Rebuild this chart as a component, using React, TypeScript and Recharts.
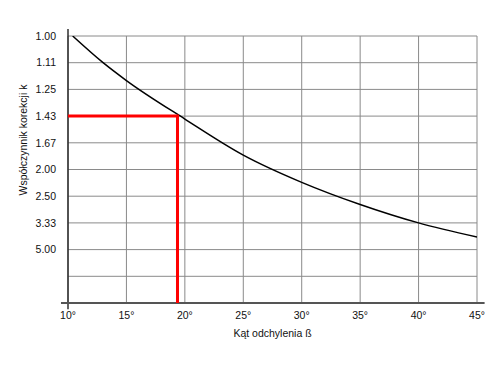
import React from 'react';
import { LineChart, Line, XAxis, YAxis, CartesianGrid, ReferenceLine, Label } from 'recharts';

// Angle of deviation (degrees) and the inverse correction factor 1/k
const angles = [10.4, 13, 15, 20, 25, 30, 35, 40, 45];
const invK = [1.0, 0.9, 0.833, 0.689, 0.554, 0.452, 0.369, 0.3, 0.247];

// Example reading (red guide line): k = 1.43 -> beta ≈ 19.4°
const markerAngle = [10, 19.37, 19.37];
const markerInvK = [0.7, 0.7, 0];

const xTicks = [10, 15, 20, 25, 30, 35, 40, 45];
const yTicks = [0, 0.1, 0.2, 0.3, 0.4, 0.5, 0.6, 0.7, 0.8, 0.9, 1.0];
const kLabels = ['', '', '5.00', '3.33', '2.50', '2.00', '1.67', '1.43', '1.25', '1.11', '1.00'];

const xTitle = 'Kąt odchylenia ß';
const yTitle = 'Współczynnik korekcji k';

const curve = angles.map((x, i) => ({ x, y: invK[i] }));
const marker = markerAngle.map((x, i) => ({ x, y: markerInvK[i] }));

const FONT = '"Liberation Sans", Arial, Helvetica, sans-serif';

const XTitle = (props: any) => {
  const vb = props.viewBox || { x: 68, y: 303, width: 409, height: 40 };
  return (
    <text
      x={vb.x + vb.width / 2}
      y={vb.y + 30}
      textAnchor="middle"
      dominantBaseline="central"
      fontFamily={FONT}
      fontSize={10.5}
      fill="#111"
    >
      {xTitle}
    </text>
  );
};

const YTitle = (props: any) => {
  const vb = props.viewBox || { x: 8, y: 36, width: 60, height: 267 };
  const cx = vb.x + 15;
  const cy = vb.y + 104;
  return (
    <text
      x={cx}
      y={cy}
      transform={`rotate(-90 ${cx} ${cy})`}
      textAnchor="middle"
      dominantBaseline="central"
      fontFamily={FONT}
      fontSize={10.5}
      fill="#111"
    >
      {yTitle}
    </text>
  );
};

export default function App() {
  return (
    <div style={{ position: 'absolute', left: 0, top: 0, width: 500, height: 368, background: '#fff' }}>
      <LineChart width={500} height={368} margin={{ top: 36, right: 23, bottom: 25, left: 8 }}>
        <CartesianGrid stroke="#8a8a8a" strokeWidth={1} />
        <XAxis
          type="number"
          dataKey="x"
          domain={[10, 45]}
          ticks={xTicks}
          allowDataOverflow
          height={40}
          axisLine={false}
          tickLine={false}
          tickSize={6}
          tickMargin={3}
          tickFormatter={(v: number) => `${v}°`}
          tick={{ fontFamily: FONT, fontSize: 10.5, fill: '#111' }}
        >
          <Label content={<XTitle />} />
        </XAxis>
        <YAxis
          type="number"
          dataKey="y"
          domain={[0, 1]}
          ticks={yTicks}
          allowDataOverflow
          width={60}
          axisLine={false}
          tickLine={false}
          tickSize={6}
          tickMargin={6}
          tickFormatter={(v: number) => kLabels[Math.round(v * 10)]}
          tick={{ fontFamily: FONT, fontSize: 10.5, fill: '#111' }}
        >
          <Label content={<YTitle />} />
        </YAxis>
        <ReferenceLine
          segment={[{ x: 10, y: -0.023 }, { x: 10, y: 1.026 }]}
          stroke="#222"
          strokeWidth={1.4}
          ifOverflow="visible"
        />
        <ReferenceLine
          segment={[{ x: 9.4, y: 0 }, { x: 45.65, y: 0 }]}
          stroke="#555"
          strokeWidth={2}
          ifOverflow="visible"
        />
        <Line
          data={curve}
          dataKey="y"
          type="monotone"
          stroke="#000"
          strokeWidth={1.5}
          dot={false}
          isAnimationActive={false}
        />
        <Line
          data={marker}
          dataKey="y"
          type="linear"
          stroke="#ff0000"
          strokeWidth={3}
          dot={false}
          isAnimationActive={false}
        />
      </LineChart>
    </div>
  );
}
